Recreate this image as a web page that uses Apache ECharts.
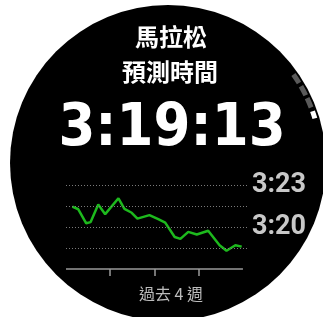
<!DOCTYPE html>
<html>
<head>
<meta charset="utf-8">
<script src="https://cdn.jsdelivr.net/npm/echarts@6/dist/echarts.min.js"></script>
<style>
  html, body { margin: 0; padding: 0; background: #fff; }
  #chart { width: 323px; height: 317px; }
</style>
</head>
<body>
<div id="chart"></div>
<script>
// days back from start of the 4-week window, and predicted marathon time in seconds
const dayOffsets = [1.0, 1.95, 3.2, 3.9, 5.1, 6.2, 8.3, 9.25, 10.4, 11.3, 13.2, 14.6, 15.7, 17.2, 18.1, 19.35, 20.7, 22.5, 24.3, 25.4, 26.8, 27.8];
const predictedSeconds = [12087, 12076, 12016, 12021, 12096, 12055, 12123, 12078, 12061, 12036, 12051, 12034, 12019, 11957, 11949, 11979, 11968, 11984, 11922, 11898, 11922, 11916];

const gridValues = [11910, 12000, 12090, 12180];
const yLabelValues = [12000, 12180];
const xTickDays = [7, 14, 21];

const titleLines = ["馬拉松", "預測時間"];
const predictedTime = "3:19:13";
const axisCaption = "過去 4 週";

function fmtHM(v) {
    const h = Math.floor(v / 3600);
    const m = Math.floor((v % 3600) / 60);
    return h + ":" + String(m).padStart(2, "0");
}

const chart = echarts.init(document.getElementById("chart"));

// progress dashes on the bezel (degrees above the horizontal)
const dashes = [
    { a: 33.3, len: 3.8, color: "#5a5a5a" },
    { a: 28.1, len: 3.8, color: "#5a5a5a" },
    { a: 23.1, len: 3.8, color: "#5a5a5a" },
    { a: 18.3, len: 2.8, color: "#ffffff" }
];

const cx = 168, cy = 163;

const graphics = [
    { type: "circle", z: -10, shape: { cx: cx, cy: cy, r: 158 }, style: { fill: "#000" } }
];
dashes.forEach(function (d) {
    const rad = Math.PI / 180;
    graphics.push({
        type: "arc",
        shape: { cx: cx, cy: cy, r: 153.5, startAngle: -(d.a + d.len / 2) * rad, endAngle: -(d.a - d.len / 2) * rad },
        style: { stroke: d.color, lineWidth: 5, fill: null }
    });
});
graphics.push(
    { type: "text", x: 171, y: 37, style: { text: titleLines[0], fill: "#fff", font: 'bold 24px "Noto Sans CJK TC"', align: "center", verticalAlign: "middle" } },
    { type: "text", x: 170, y: 72, style: { text: titleLines[1], fill: "#fff", font: 'bold 24px "Noto Sans CJK TC"', align: "center", verticalAlign: "middle" } },
    { type: "text", x: 172, y: 130, style: { text: predictedTime, fill: "#fff", font: 'bold 59px "DejaVu Sans Condensed", "DejaVu Sans"', align: "center", verticalAlign: "middle" } },
    { type: "text", x: 171, y: 294, style: { text: axisCaption, fill: "#bdbdbd", font: '16px "Noto Sans CJK TC"', align: "center", verticalAlign: "middle" } }
);

chart.setOption({
    backgroundColor: "#fff",
    animation: false,
    graphic: graphics,
    grid: { left: 66, right: 75, top: 185, bottom: 48 },
    xAxis: {
        type: "value",
        min: 0,
        max: 28.8,
        axisLine: { show: false },
        axisTick: { show: true, customValues: xTickDays, length: 7, lineStyle: { color: "#9a9a9a", width: 1.5 } },
        axisLabel: { show: false },
        splitLine: { show: false }
    },
    yAxis: {
        type: "value",
        position: "right",
        min: 11820,
        max: 12180,
        interval: 30,
        axisLine: { show: false },
        axisTick: { show: false },
        splitLine: { show: false },
        axisLabel: {
            margin: 4,
            color: "#c8c8c8",
            fontSize: 27,
            fontWeight: "bold",
            fontFamily: "Roboto",
            formatter: function (v) { return yLabelValues.indexOf(v) >= 0 ? fmtHM(v) : ""; }
        }
    },
    series: [{
        type: "line",
        data: dayOffsets.map(function (d, i) { return [d, predictedSeconds[i]]; }),
        symbol: "none",
        lineStyle: { color: "#1db91d", width: 2.5 },
        markLine: {
            silent: true,
            symbol: "none",
            label: { show: false },
            data: gridValues.map(function (v) {
                return { yAxis: v, lineStyle: { color: "#7a7a7a", type: [1, 2], width: 1 } };
            }).concat([[
                { coord: [0, 11820], lineStyle: { color: "#9a9a9a", type: "solid", width: 1.5 } },
                { coord: [28, 11820] }
            ]])
        }
    }]
});
</script>
</body>
</html>
